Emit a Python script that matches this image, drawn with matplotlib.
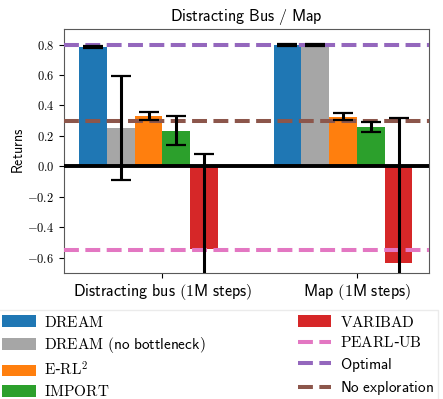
import numpy as np
import matplotlib
matplotlib.use("Agg")
import matplotlib.pyplot as plt

plt.rcParams["mathtext.fontset"] = "cm"

groups = [r"$\mathsf{Distracting\ bus\ (1M\ steps)}$", r"$\mathsf{Map\ (1M\ steps)}$"]
methods = [r"$\mathrm{DREAM}$", r"$\mathrm{DREAM}\ \mathsf{(no\ bottleneck)}$",
           r"$\mathrm{E}$-$\mathrm{RL}^2$", r"$\mathrm{IMPORT}$", r"$\mathrm{VARIBAD}$"]
colors = ["#1f77b4", "#a6a6a6", "#ff7f0e", "#2ca02c", "#d62728"]
means = {  # per method: [distracting bus, map]
    "dream": [0.785, 0.797],
    "dream_nb": [0.253, 0.797],
    "erl2": [0.331, 0.325],
    "import": [0.233, 0.260],
    "varibad": [-0.545, -0.634],
}
errs = {
    "dream": [0.006, 0.004],
    "dream_nb": [0.342, 0.004],
    "erl2": [0.026, 0.024],
    "import": [0.095, 0.034],
    "varibad": [0.628, 0.954],
}
pearl_ub = -0.55
optimal = 0.8
no_explore = 0.3
yticks = [-0.6, -0.4, -0.2, 0.0, 0.2, 0.4, 0.6, 0.8]

fig = plt.figure(figsize=(4.43, 3.99), dpi=100)
ax = fig.add_axes([0.145, 0.3165, 0.823, 0.61])

w = 1 / 7
x = np.arange(len(groups))
for i, (k, lab, c) in enumerate(zip(means, methods, colors)):
    ax.bar(x + (i - 2.5) * w, means[k], w, color=c, label=lab, zorder=2)
    ax.errorbar(x + (i - 2.5) * w, means[k], yerr=errs[k], fmt="none", ecolor="k",
                elinewidth=2.2, capsize=7, capthick=1.6, zorder=5)

ax.axhline(pearl_ub, color="#e377c2", ls="--", lw=2.9, label=r"$\mathrm{PEARL}$-$\mathrm{UB}$", zorder=4)
ax.axhline(optimal, color="#9467bd", ls="--", lw=2.9, label=r"$\mathsf{Optimal}$", zorder=4)
ax.axhline(no_explore, color="#8c564b", ls="--", lw=2.9, label=r"$\mathsf{No\ exploration}$", zorder=4)
ax.axhline(0, color="k", lw=2.8, zorder=6)

ax.set_xlim(-0.505, 1.37)
ax.set_ylim(-0.7, 0.9)
ax.set_xticks(x)
ax.set_xticklabels(groups, fontsize=11.6)
ax.set_yticks(yticks)
ax.set_yticklabels([f"${v:.1f}$" for v in yticks], fontsize=9)
ax.set_ylabel(r"$\mathsf{Returns}$", fontsize=10, labelpad=1)
ax.set_title(r"$\mathsf{Distracting\ Bus\ /\ Map}$", fontsize=11.6)
for s in ax.spines.values():
    s.set_color("0.35")

h, l = ax.get_legend_handles_labels()
order = [3, 4, 5, 6, 7, 0, 1, 2]
h = [h[i] for i in order]; l = [l[i] for i in order]
fig.legend(h, l, loc="upper left", bbox_to_anchor=(-0.005, 0.223), ncol=2, fontsize=11,
           frameon=True, edgecolor="0.9", fancybox=False, borderaxespad=0,
           handlelength=2.2, handleheight=0.8, labelspacing=0.36, columnspacing=6.0,
           handletextpad=0.55, borderpad=0.3)

fig.savefig("out.png", dpi=100)
